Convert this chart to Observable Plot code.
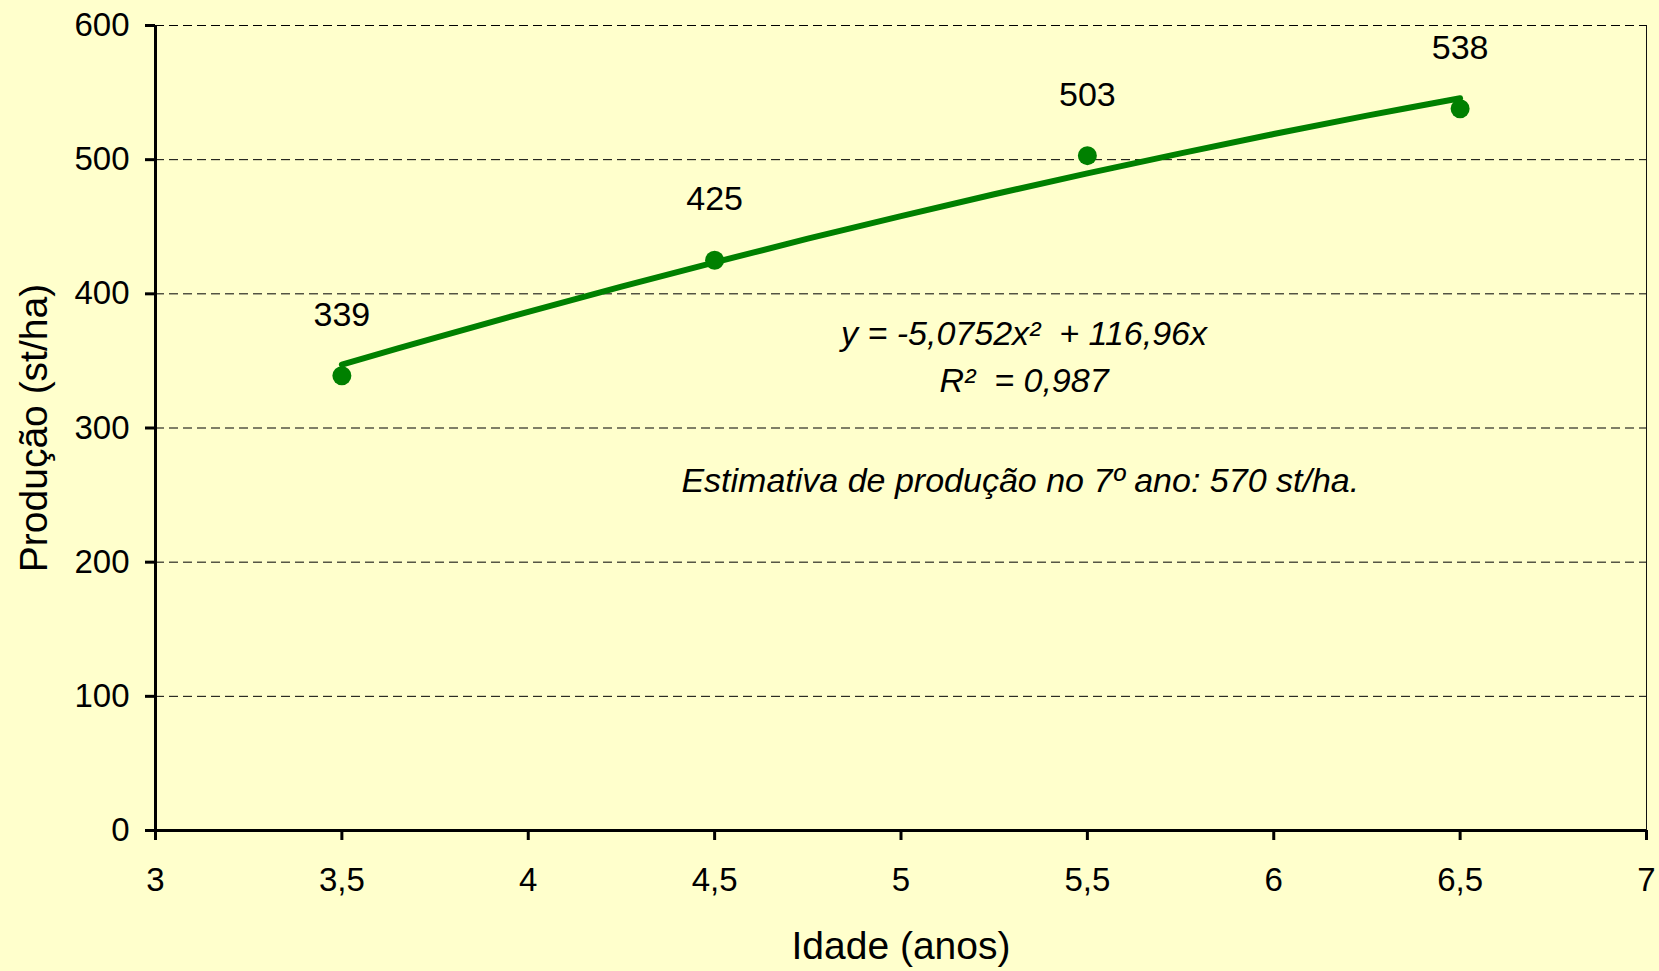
<!DOCTYPE html>
<html>
<head>
<meta charset="utf-8">
<script src="https://cdn.jsdelivr.net/npm/d3@7"></script>
<script src="https://cdn.jsdelivr.net/npm/@observablehq/plot@0.6"></script>
<style>
  html, body { margin: 0; padding: 0; background: #FFFFCC; }
  #chart svg { display: block; }
</style>
</head>
<body>
<div id="chart"></div>
<script>
// Observed production by age
const ages = [3.5, 4.5, 5.5, 6.5];
const production = [339, 425, 503, 538];

// Polynomial trend line (y = -5,0752x² + 116,96x)
const trendAges = [3.5, 3.75, 4.0, 4.25, 4.5, 4.75, 5.0, 5.25, 5.5, 5.75, 6.0, 6.25, 6.5];
const trendValues = [347.2, 367.2, 386.6, 405.4, 423.5, 441.1, 457.9, 474.2, 489.8, 504.7, 519.1, 532.8, 545.8];

// Axis ticks
const xTicks = [3, 3.5, 4, 4.5, 5, 5.5, 6, 6.5, 7];
const yTicks = [0, 100, 200, 300, 400, 500, 600];
const gridValues = [100, 200, 300, 400, 500, 600];

// Annotation texts
const annotationTexts = ["y = -5,0752x²  + 116,96x", "R²  = 0,987", "Estimativa de produção no 7º ano: 570 st/ha."];
const annotationX = [5.33, 5.33, 5.32];
const annotationY = [362, 327, 252];

const xLabel = "Idade (anos)";
const yLabel = "Produção (st/ha)";

const points = ages.map((a, i) => ({age: a, value: production[i]}));
const trend = trendAges.map((a, i) => ({age: a, value: trendValues[i]}));
const annotations = annotationTexts.map((t, i) => ({x: annotationX[i], y: annotationY[i], text: t}));

const fmt = d => String(d).replace(".", ",");
const green = "#008000";

const chart = Plot.plot({
  width: 1659,
  height: 971,
  marginTop: 25,
  marginRight: 13,
  marginBottom: 141,
  marginLeft: 155,
  style: {
    fontFamily: "'Liberation Sans', Arial, sans-serif",
    fontSize: "33px",
    background: "#FFFFCC",
    color: "#000"
  },
  x: {domain: [3, 7]},
  y: {domain: [0, 600]},
  marks: [
    Plot.ruleY(gridValues, {stroke: "#000", strokeWidth: 1, strokeDasharray: "9,5"}),
    Plot.ruleX([7], {stroke: "#111", strokeWidth: 1}),
    Plot.axisX({ticks: xTicks, tickFormat: fmt, tickSize: 10, tickPadding: 27, strokeWidth: 3, label: null, fontSize: 33}),
    Plot.axisY({ticks: yTicks, tickSize: 10, tickPadding: 16, strokeWidth: 3, label: null, fontSize: 33}),
    Plot.ruleX([3], {stroke: "#000", strokeWidth: 3}),
    Plot.ruleY([0], {stroke: "#000", strokeWidth: 3}),
    Plot.line(trend, {x: "age", y: "value", stroke: green, strokeWidth: 6, curve: "catmull-rom"}),
    Plot.dot(points, {x: "age", y: "value", r: 9.5, fill: green, stroke: "none"}),
    Plot.text(points, {x: "age", y: "value", text: d => String(d.value), dy: -50, lineAnchor: "bottom", fontSize: 34, fill: "#000"}),
    Plot.text(annotations, {x: "x", y: "y", text: "text", lineAnchor: "bottom", fontSize: 34, fontStyle: "italic", fill: "#000"}),
    Plot.text([xLabel], {frameAnchor: "bottom", dy: 116, textAnchor: "middle", lineAnchor: "middle", fontSize: 39, fill: "#000"}),
    Plot.text([yLabel], {frameAnchor: "left", dx: -121, rotate: -90, textAnchor: "middle", lineAnchor: "middle", fontSize: 39, fill: "#000"})
  ]
});

document.getElementById("chart").append(chart);
</script>
</body>
</html>
